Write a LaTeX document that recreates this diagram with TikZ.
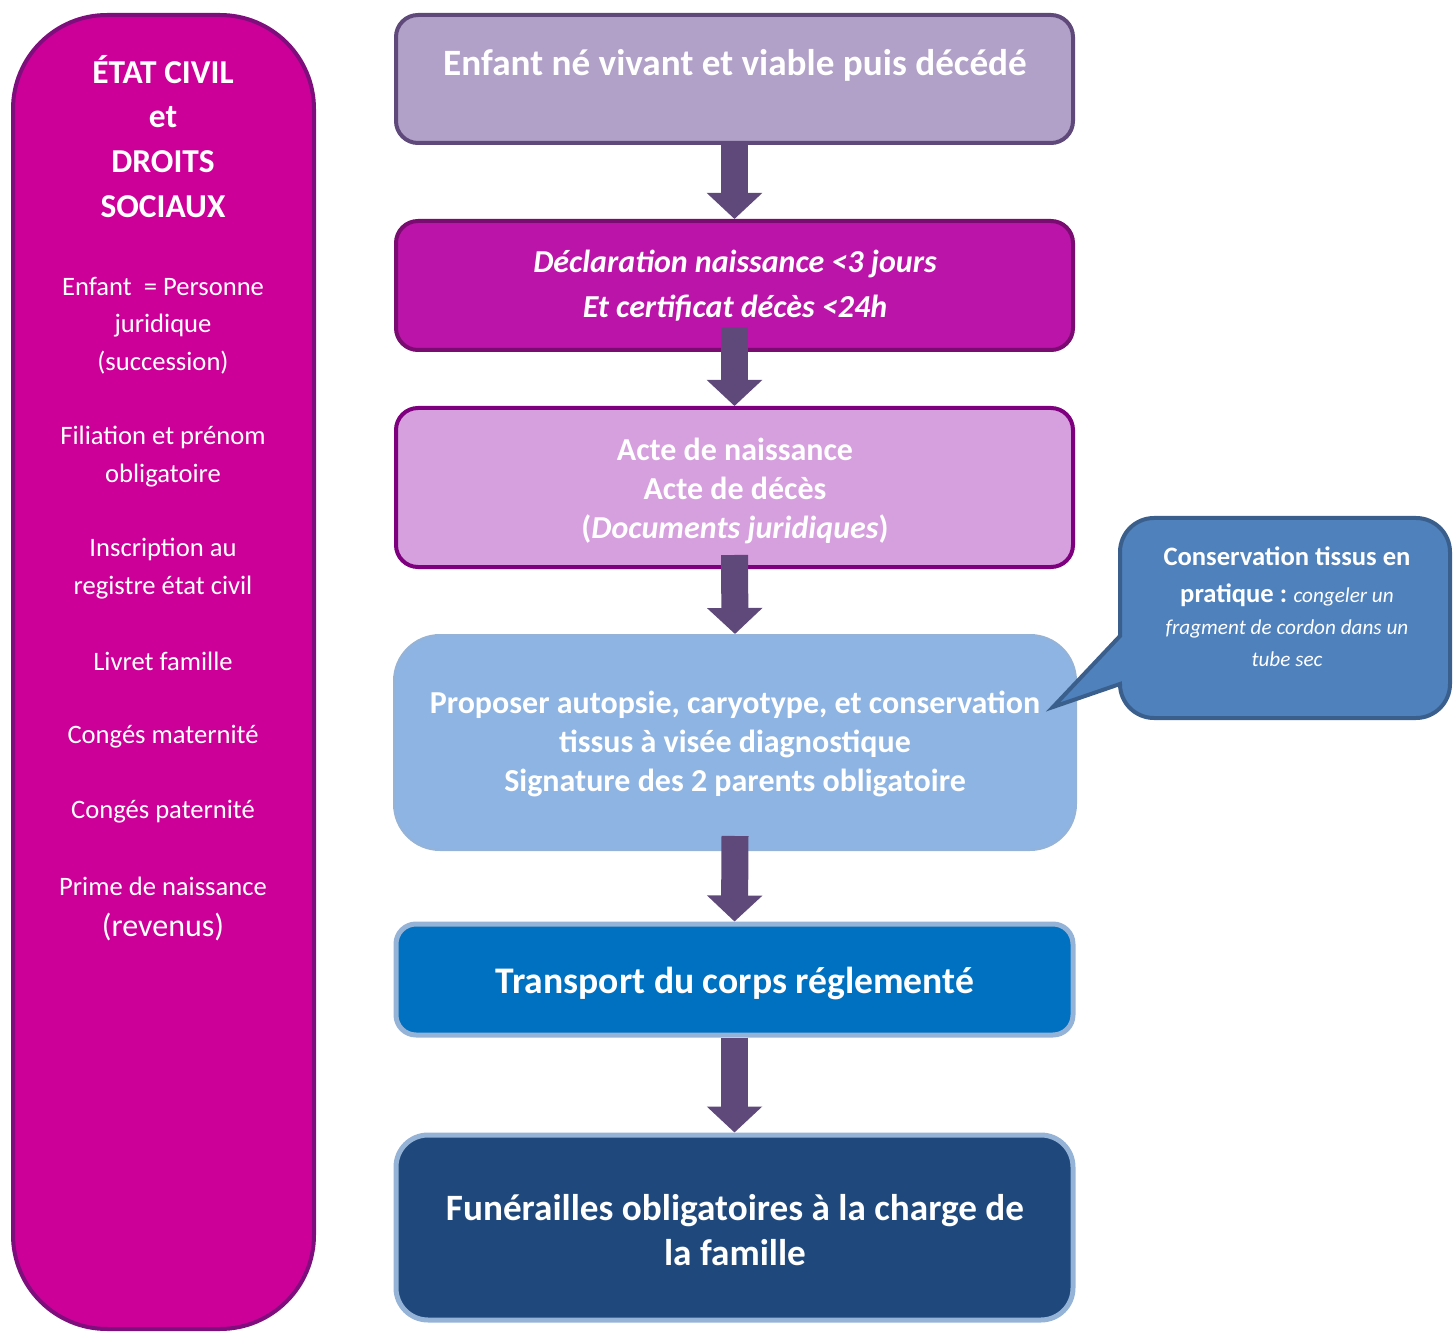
\documentclass[tikz,border=0pt]{standalone}
\usepackage{fontspec}
\setmainfont{Carlito}
\usetikzlibrary{arrows.meta}
\definecolor{aFill}{HTML}{B1A0C7}
\definecolor{aLine}{HTML}{5F497A}
\definecolor{bFill}{HTML}{BB14A8}
\definecolor{bLine}{HTML}{7A0B71}
\definecolor{cFill}{HTML}{D69FDE}
\definecolor{cLine}{HTML}{7F007F}
\definecolor{dFill}{HTML}{8EB4E3}
\definecolor{paleLine}{HTML}{95B3D7}
\definecolor{eFill}{HTML}{0070C0}
\definecolor{fFill}{HTML}{1F497D}
\definecolor{kFill}{HTML}{4F81BD}
\definecolor{kLine}{HTML}{3A5F8C}
\definecolor{lFill}{HTML}{CC0099}
\definecolor{lLine}{HTML}{7E0E7C}
\definecolor{arrowCol}{HTML}{5F497A}
\begin{document}
\begin{tikzpicture}[x=0.5pt,y=-0.5pt,
  box/.style={draw, rounded corners=11pt, minimum width=338.5pt, inner sep=0pt, line width=2pt},
  txt/.style={text=white, align=center, inner sep=0pt},
  ltxt/.style={txt, font=\fontsize{13.3}{18.75}\selectfont},
  flow/.style={draw=arrowCol, line width=13.5pt, -{Triangle[width=27pt,length=13pt]}}]
\useasboundingbox (0,0) rectangle (1453,1332);

% left column
\node[draw=lLine, fill=lFill, line width=2pt, rounded corners=47pt, minimum width=150.5pt, minimum height=657pt, inner sep=0pt] (left) at (163.5,672) {};
\node[txt, font=\fontsize{16.7}{22.4}\selectfont\bfseries] (ltitle) at (163,136.5) {ÉTAT CIVIL\\et\\DROITS\\SOCIAUX};
\node[ltxt] (l1) at (163,325.5) {Enfant~ = Personne\\juridique\\(succession)};
\node[ltxt] (l2) at (163,456.5) {Filiation et prénom\\obligatoire};
\node[ltxt] (l3) at (163,568.5) {Inscription au\\registre état civil};
\node[ltxt] (l4) at (163,661) {Livret famille};
\node[ltxt] (l5) at (163,737) {Congés maternité};
\node[ltxt] (l6) at (163,812) {Congés paternité};
\node[ltxt] (l7) at (163,886) {Prime de naissance};
\node[txt, font=\fontsize{16}{20}\selectfont] (l8) at (163,927) {(revenus)};

% flow boxes
\node[box, draw=aLine, fill=aFill, minimum height=64pt] (A) at (734.5,79) {};
\node[box, draw=bLine, fill=bFill, minimum height=64.5pt] (B) at (734.5,285.5) {};
\node[box, draw=cLine, fill=cFill, minimum height=79.5pt] (C) at (734.5,487.5) {};
\node[box, draw=paleLine, fill=dFill, line width=1pt, rounded corners=23pt, minimum width=341pt, minimum height=107.5pt] (D) at (735,742.5) {};
\node[box, draw=paleLine, fill=eFill, line width=2.5pt, rounded corners=10pt, minimum height=55.5pt] (E) at (734.5,979.5) {};
\node[box, draw=paleLine, fill=fFill, line width=2.5pt, rounded corners=16pt, minimum height=92.5pt] (F) at (734.5,1227.5) {};

\node[txt, font=\fontsize{18.6}{22.5}\selectfont\bfseries] (tA) at (735,65) {Enfant né vivant et viable puis décédé};
\node[txt, font=\fontsize{16}{22.5}\selectfont\bfseries\itshape] (tB) at (735,285.5) {Déclaration naissance <3 jours\\Et certificat décès <24h};
\node[txt, font=\fontsize{16}{19.5}\selectfont\bfseries] (tC) at (735,490.5) {Acte de naissance\\Acte de décès\\(\textit{Documents juridiques})};
\node[txt, font=\fontsize{16}{19.5}\selectfont\bfseries] (tD) at (735,743.5) {Proposer autopsie, caryotype, et conservation\\tissus à visée diagnostique\\Signature des 2 parents obligatoire};
\node[txt, font=\fontsize{18.8}{22.5}\selectfont\bfseries] (tE) at (735,983.5) {Transport du corps réglementé};
\node[txt, font=\fontsize{18.6}{22.5}\selectfont\bfseries] (tF) at (735,1230) {Funérailles obligatoires à la charge de\\la famille};

% arrows
\draw[flow] (A.south) -- (B.north);
\draw[flow] ([yshift=12.5pt]B.south) -- (C.north);
\draw[flow] ([yshift=7pt]C.south) -- (D.north);
\draw[flow] ([yshift=7.5pt]D.south) -- (E.north);
\draw[flow] (E.south) -- (F.north);

% callout
\coordinate (tip) at (1053,707);
\draw[draw=kLine, fill=kFill, line width=2pt]
  (1120,636) -- (1120,552) arc[start angle=180, end angle=90, radius=17pt]
  -- (1416,518) arc[start angle=90, end angle=0, radius=17pt]
  -- (1450,684) arc[start angle=0, end angle=-90, radius=17pt]
  -- (1154,718) arc[start angle=270, end angle=180, radius=17pt]
  -- (1120,684) -- (tip) -- cycle;
\node[txt, font=\fontsize{10.6}{16}\selectfont] (ct) at (1287,607)
  {{\fontsize{13.3}{16}\selectfont\bfseries Conservation tissus en}\\[2.5pt]
   {\fontsize{13.3}{16}\selectfont\bfseries pratique :} \textit{congeler un}\\
   \textit{fragment de cordon dans un}\\
   \textit{tube sec}};
\end{tikzpicture}
\end{document}
